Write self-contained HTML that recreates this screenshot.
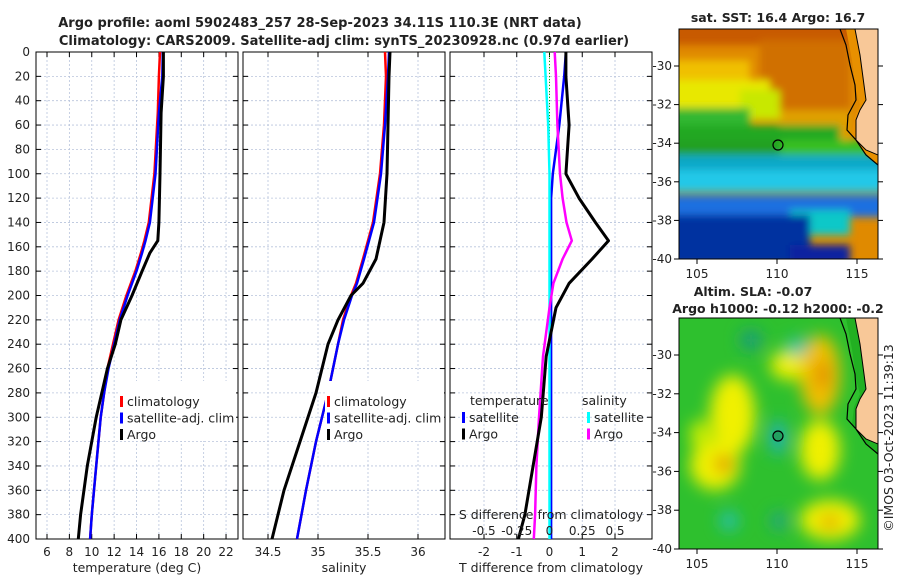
<!DOCTYPE html>
<html><head><meta charset="utf-8">
<style>
body{margin:0;background:#fff;width:900px;height:580px;overflow:hidden}
svg text{font-family:"DejaVu Sans","Liberation Sans",sans-serif;fill:#222}
</style></head><body>
<svg id="s" width="900" height="580" xmlns="http://www.w3.org/2000/svg">
<defs>
<filter id="bl" x="-20%" y="-20%" width="140%" height="140%"><feGaussianBlur stdDeviation="4"/></filter>
<filter id="bl2" x="-20%" y="-20%" width="140%" height="140%"><feGaussianBlur stdDeviation="8"/></filter>
<clipPath id="c1"><rect x="679" y="29" width="199" height="230"/></clipPath>
<clipPath id="c2"><rect x="679" y="318" width="199" height="231"/></clipPath>
</defs>
<text x="320" y="27" text-anchor="middle" font-size="13" font-weight="bold">Argo profile: aoml 5902483_257 28-Sep-2023 34.11S 110.3E (NRT data)</text>
<text x="344" y="45" text-anchor="middle" font-size="13" font-weight="bold">Climatology: CARS2009. Satellite-adj clim: synTS_20230928.nc (0.97d earlier)</text>
<g id="plots"></g>
<g id="maps"></g>
<text transform="translate(893,438) rotate(-90)" text-anchor="middle" font-size="12.5">©IMOS 03-Oct-2023 11:39:13</text>
</svg>
<script>
// ---- data ----
const depthT=[0,20,50,100,140,155,165,180,200,220,240,260,280,300,340,380,400];
const argoT=[16.4,16.4,16.2,16.1,16.0,15.9,15.2,14.5,13.6,12.6,12.1,11.4,10.9,10.4,9.6,9.0,8.8];
const climT=[16.1,16.0,15.9,15.6,15.1,14.7,14.4,13.9,13.1,12.4,11.9,11.4,11.1,10.8,10.4,10.0,9.85];
const satT=[16.35,16.3,16.0,15.7,15.2,14.8,14.5,14.0,13.2,12.5,12.0,11.5,11.1,10.8,10.4,10.0,9.85];
const depthS=[0,20,60,100,140,170,190,200,220,240,280,320,360,400];
const argoS=[35.72,35.71,35.70,35.69,35.66,35.58,35.45,35.33,35.2,35.1,34.98,34.82,34.66,34.54];
const climS=[35.67,35.68,35.66,35.62,35.55,35.45,35.38,35.33,35.25,35.2,35.1,34.98,34.88,34.79];
const satS=[35.71,35.7,35.67,35.63,35.56,35.46,35.39,35.34,35.26,35.2,35.1,34.98,34.88,34.79];
const depthD=[0,20,60,100,120,140,155,170,190,210,250,300,340,380,400];
const argoDT=[0.5,0.5,0.6,0.5,0.9,1.4,1.8,1.3,0.6,0.2,-0.1,-0.25,-0.5,-0.75,-0.95];
const satDT=[0.5,0.45,0.3,0.1,0.05,0.05,0.05,0.05,0.05,0.05,0.05,0.05,0.05,0.05,0.05];
const argoDS=[0.04,0.05,0.06,0.08,0.1,0.13,0.17,0.1,0.03,0,-0.05,-0.08,-0.1,-0.11,-0.12];
const satDS=[-0.04,-0.03,-0.01,0,0,0,0,0,0,0,0,0,0,0,0];
const yTicks=[0,20,40,60,80,100,120,140,160,180,200,220,240,260,280,300,320,340,360,380,400];
const tTicks=[6,8,10,12,14,16,18,20,22];
const sTicks=[34.5,35,35.5,36];
const dTTicks=[-2,-1,0,1,2];
const dSTicks=[-0.5,-0.25,0,0.25,0.5];
const latTicks=[-30,-32,-34,-36,-38,-40];
const lonTicks=[105,110,115];

const NS='http://www.w3.org/2000/svg';
const G=document.getElementById('plots');
function el(t,a,p){const e=document.createElementNS(NS,t);for(const k in a)e.setAttribute(k,a[k]);(p||G).appendChild(e);return e;}
const Y0=52,Y1=539;
const yS=d=>Y0+(d/400)*(Y1-Y0);
function panel(x0,x1,xs,ticks,fmt,name,xlabel){
  const g=el('g',{});
  
  
  yTicks.forEach(d=>{const l=el('line',{x1:x0,x2:x1,y1:yS(d),y2:yS(d),stroke:'#b8c4dc','stroke-width':0.8,'stroke-dasharray':'2,2'},g);
    el('line',{x1:x0,x2:x0+5,y1:yS(d),y2:yS(d),stroke:'#000'},g);el('line',{x1:x1-5,x2:x1,y1:yS(d),y2:yS(d),stroke:'#000'},g);});
  ticks.forEach(v=>{const x=xs(v);el('line',{x1:x,x2:x,y1:Y0,y2:Y1,stroke:'#b8c4dc','stroke-width':0.8,'stroke-dasharray':'2,2'},g);
    el('line',{x1:x,x2:x,y1:Y1-5,y2:Y1,stroke:'#000'},g);el('line',{x1:x,x2:x,y1:Y0,y2:Y0+5,stroke:'#000'},g);
    if(fmt){const t=el('text',{x:x,y:556,'text-anchor':'middle','font-size':12},g);t.textContent=fmt(v);}});
  el('rect',{x:x0,y:Y0,width:x1-x0,height:Y1-Y0,fill:'none',stroke:'#000','stroke-width':1},g);
  if(xlabel){const t=el('text',{x:(x0+x1)/2,y:572,'text-anchor':'middle','font-size':12.5},g);t.textContent=xlabel;}
  return g;
}
function line(g,xs,vals,deps,col,w,name){
  const p=vals.map((v,i)=>(i?'L':'M')+xs(v).toFixed(1)+','+yS(deps[i]).toFixed(1)).join('');
  const e=el('path',{d:p,fill:'none',stroke:col,'stroke-width':w,'stroke-linejoin':'round'},g);
  
  
}
function txt(g,x,y,s,sz,anchor,name){const t=el('text',{x:x,y:y,'font-size':sz||12.5,'text-anchor':anchor||'start'},g);t.textContent=s;return t;}
function legend(g,x,y,items){items.forEach((it,i)=>{const yy=y+i*16.5;el('rect',{x:x,y:yy-10,width:3,height:11,fill:it[0]},g);txt(g,x+7,yy,it[1],12.5,'start','legend-entry');});}

yTicks.forEach(d=>{txt(G,30,yS(d)+4,String(d),12,'end','y-tick-label');});

const xT=v=>47+(v-6)*11.19;
const p1=panel(36,238,xT,tTicks,v=>v,'temperature-panel','temperature (deg C)');
line(p1,xT,climT,depthT,'#f00',2.5,'climatology-temp-line');
line(p1,xT,satT,depthT,'#00f',2.5,'satellite-temp-line');
line(p1,xT,argoT,depthT,'#000',3,'argo-temp-line');
el('rect',{x:118,y:381,width:118,height:60,fill:'#fff'},p1);
legend(p1,120,406,[['#f00','climatology'],['#00f','satellite-adj. clim'],['#000','Argo']]);

const xS=v=>318+(v-35)*100;
const p2=panel(243,445,xS,sTicks,v=>v,'salinity-panel','salinity');
line(p2,xS,climS,depthS,'#f00',2.5,'climatology-sal-line');
line(p2,xS,satS,depthS,'#00f',2.5,'satellite-sal-line');
line(p2,xS,argoS,depthS,'#000',3,'argo-sal-line');
el('rect',{x:325,y:381,width:119,height:60,fill:'#fff'},p2);
legend(p2,327,406,[['#f00','climatology'],['#00f','satellite-adj. clim'],['#000','Argo']]);

const xD=v=>549.5+v*32.75;
const xDS=v=>549.5+v*131;
const p3=panel(450,652,xD,dTTicks,v=>v,'difference-panel','T difference from climatology');
el('line',{x1:549.5,x2:549.5,y1:Y0,y2:Y1,stroke:'#0a0','stroke-width':1,'stroke-dasharray':'1,2'},p3);
line(p3,xD,satDT,depthD,'#00f',2.5,'satellite-tdiff-line');
line(p3,xDS,satDS,depthD,'#0ff',2.5,'satellite-sdiff-line');
line(p3,xDS,argoDS,depthD,'#f0f',2.5,'argo-sdiff-line');
line(p3,xD,argoDT,depthD,'#000',3,'argo-tdiff-line');
txt(p3,470,405,'temperature',12.5,'start','legend-title-temperature');
txt(p3,582,405,'salinity',12.5,'start','legend-title-salinity');
legend(p3,462,422,[['#00f','satellite'],['#000','Argo']]);
legend(p3,587,422,[['#0ff','satellite'],['#f0f','Argo']]);
txt(p3,551,519,'S difference from climatology',12.5,'middle','s-axis-title');
dSTicks.forEach(v=>txt(p3,xDS(v),535,String(v),12,'middle','s-tick-label'));

// ---- maps ----
const M=document.getElementById('maps');
const lonX=v=>697+(v-105)*16;
function mapAxes(top,y30,y40,name){
  const g=el('g',{},M);
  const ly=v=>y30+(-30-v)/10*(y40-y30);
  latTicks.forEach(v=>{el('line',{x1:674,x2:679,y1:ly(v),y2:ly(v),stroke:'#000'},g);el('line',{x1:878,x2:883,y1:ly(v),y2:ly(v),stroke:'#000'},g);txt(g,672,ly(v)+4,String(v),12,'end','lat-tick-label');});
  lonTicks.forEach(v=>{el('line',{x1:lonX(v),x2:lonX(v),y1:y40,y2:y40+5,stroke:'#000'},g);txt(g,lonX(v),y40+19,String(v),12,'middle','lon-tick-label');});
  return g;
}
// SST map
const g1=el('g',{'clip-path':'url(#c1)'},M);
el('rect',{x:679,y:29,width:199,height:230,fill:'#e08a00'},g1);
const b1=el('g',{filter:'url(#bl)'},g1);
[['#c85a00',670,20,220,25],['#d07000',760,40,90,80],['#f0c000',670,60,80,30],['#e8e800',670,80,100,30],['#c8e800',740,90,40,30],['#e0a000',780,110,70,30],['#30b830',670,108,80,20],['#22a822',670,125,170,18],['#38c020',760,140,110,15],['#20a020',670,140,110,20],['#10a8c8',670,155,220,30],['#20c8e8',670,170,220,22],['#1e70e0',670,195,220,22],['#10c8c8',790,210,60,25],['#0030a0',670,215,140,50],['#0a20a0',790,245,60,20]].forEach(a=>el('rect',{x:a[1],y:a[2],width:a[3],height:a[4],fill:a[0]},b1));
// SLA map
const g2=el('g',{'clip-path':'url(#c2)'},M);
el('rect',{x:679,y:318,width:199,height:231,fill:'#2ec02e'},g2);
const b2=el('g',{filter:'url(#bl2)'},g2);
[['#f0f000',710,375,45,80],['#f0f000',770,350,40,30],['#f0c000',800,335,40,80],['#e08000',817,360,12,30],['#f0f000',690,440,50,50],['#e07000',716,456,16,16],['#f0f000',800,420,40,60],['#f0f000',800,500,60,40],['#e09000',820,516,20,12],['#1a9a80',740,330,22,20],['#20c0c0',788,338,18,18],['#20b0c0',770,420,16,35],['#20c0c0',720,512,18,18],['#20a090',771,512,16,18],['#ccee00',690,420,20,30]].forEach(a=>el('ellipse',{cx:a[1]+a[3]/2,cy:a[2]+a[4]/2,rx:a[3]/2,ry:a[4]/2,fill:a[0]},b2));
function coast(g,dy,fill){
  el('path',{d:'M846,'+(29+dy)+' L852,'+(60+dy)+' L856,'+(90+dy)+' L860,'+(105+dy)+' L854,'+(118+dy)+' L852,'+(135+dy)+' L862,'+(150+dy)+' L878,'+(165+dy)+' L878,'+(29+dy)+' Z',fill:fill},g);
  el('path',{d:'M855,'+(29+dy)+' L860,'+(55+dy)+' L864,'+(85+dy)+' L866,'+(100+dy)+' L860,'+(110+dy)+' L856,'+(120+dy)+' L856,'+(140+dy)+' L866,'+(150+dy)+' L878,'+(155+dy)+' L878,'+(29+dy)+' Z',fill:'#f8c898',stroke:'#000','stroke-width':1},g);
  el('path',{d:'M840,'+(29+dy)+' L846,'+(45+dy)+' L850,'+(65+dy)+' L855,'+(85+dy)+' L856,'+(100+dy)+' L848,'+(115+dy)+' L847,'+(130+dy)+' L856,'+(140+dy)+' L866,'+(155+dy)+' L878,'+(165+dy),fill:'none',stroke:'#000','stroke-width':1.2},g);
}
coast(g1,0,'#e89000');
coast(g2,289,'#22b022');
el('rect',{x:679,y:29,width:199,height:230,fill:'none',stroke:'#000'},M);
el('rect',{x:679,y:318,width:199,height:231,fill:'none',stroke:'#000'},M);
const c1=el('circle',{cx:778,cy:145,r:5,fill:'none',stroke:'#000','stroke-width':1.2},M);
const c2=el('circle',{cx:778,cy:436,r:5,fill:'#22a060',stroke:'#000','stroke-width':1.2},M);
mapAxes(29,66,259,'sst-map-axes');
mapAxes(318,355,549,'sla-map-axes');
const tb=(x,y,s,n)=>{const t=txt(M,x,y,s,12.5,'middle',n);t.setAttribute('font-weight','bold');};
tb(778,22,'sat. SST: 16.4 Argo: 16.7','sst-map-title');
tb(753,296,'Altim. SLA: -0.07','sla-map-title');
tb(778,313,'Argo h1000: -0.12 h2000: -0.2','sla-map-subtitle');
</script>
</body></html>
